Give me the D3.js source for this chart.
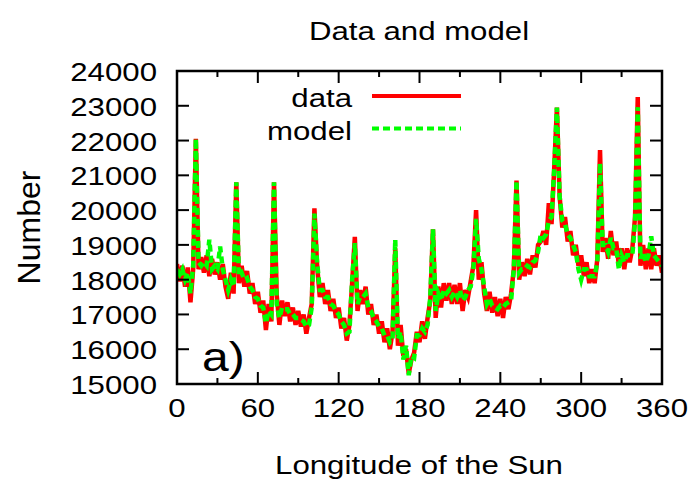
<!DOCTYPE html>
<html>
<head>
<meta charset="utf-8">
<script src="https://cdn.jsdelivr.net/npm/d3@7"></script>
<style>
  body { margin: 0; background: #fff; }
  text { font-family: "Liberation Sans", Arial, sans-serif; fill: #000; }
</style>
</head>
<body>
<div id="chart"></div>
<script>
// longitude of the Sun (degrees)
var longitude = [
  0, 2, 4, 6, 8, 10, 12, 14, 16, 18,
  20, 22, 24, 26, 28, 30, 32, 34, 36, 38,
  40, 42, 44, 46, 48, 50, 52, 54, 56, 58,
  60, 62, 64, 66, 68, 70, 72, 74, 76, 78,
  80, 82, 84, 86, 88, 90, 92, 94, 96, 98,
  100, 102, 104, 106, 108, 110, 112, 114, 116, 118,
  120, 122, 124, 126, 128, 130, 132, 134, 136, 138,
  140, 142, 144, 146, 148, 150, 152, 154, 156, 158,
  160, 162, 164, 166, 168, 170, 172, 174, 176, 178,
  180, 182, 184, 186, 188, 190, 192, 194, 196, 198,
  200, 202, 204, 206, 208, 210, 212, 214, 216, 218,
  220, 222, 224, 226, 228, 230, 232, 234, 236, 238,
  240, 242, 244, 246, 248, 250, 252, 254, 256, 258,
  260, 262, 264, 266, 268, 270, 272, 274, 276, 278,
  280, 282, 284, 286, 288, 290, 292, 294, 296, 298,
  300, 302, 304, 306, 308, 310, 312, 314, 316, 318,
  320, 322, 324, 326, 328, 330, 332, 334, 336, 338,
  340, 342, 344, 346, 348, 350, 352, 354, 356, 358,
  360
];

var dataValues = [
  18450, 17950, 18400, 17800, 18350, 17350, 18300, 22050, 18300, 18650,
  18200, 18700, 18100, 18600, 18150, 18500, 18000, 18450, 17800, 17450,
  18200, 17600, 20800, 17900, 18400, 17800, 18250, 17600, 17900, 17300,
  17650, 17050, 17400, 16550, 17300, 16800, 20800, 17550, 16700, 17400,
  16950, 17350, 16800, 17200, 16700, 17100, 16650, 17000, 16450, 16900,
  17300, 20050, 18400, 17500, 17900, 17300, 17700, 17100, 17450, 16900,
  17200, 16600, 16900, 16250, 16700, 17900, 19230, 17100, 17700, 17300,
  17800, 17000, 17300, 16700, 17000, 16450, 16800, 16200, 16600, 16000,
  16500, 18900, 16100, 16700, 15800, 16000, 15300, 15700, 15900, 16500,
  16200, 16800, 16300, 16900, 17400, 19450, 16900, 17800, 17200, 17900,
  17400, 17900, 17300, 17850, 17300, 17900, 17100, 17700, 17500, 17950,
  18400, 20000, 18000, 18500, 17600, 17100, 17650, 17050, 17500, 16950,
  17450, 16900, 17500, 17150, 17600, 18300, 20850, 18000, 18500, 18100,
  18600, 18150, 18700, 18350, 19000, 19100, 19400, 19000, 20200, 19600,
  21200, 22950, 20400, 19500, 19800, 19100, 19400, 18700, 19000, 18400,
  18700, 18100, 18500, 17900, 18300, 17900, 18600, 21730, 18800, 19200,
  18600, 19400, 18700, 19100, 18400, 18900, 18300, 18900, 18500, 18900,
  19800, 23250, 18400, 19000, 18300, 18900, 18300, 18900, 18400, 18700,
  18200
];

var modelValues = [
  18300, 18150, 18300, 18000, 18200, 17600, 18400, 22050, 18500, 18400,
  18500, 18400, 19150, 18300, 18400, 18300, 18950, 18300, 18000, 17700,
  18000, 17800, 20800, 18100, 18200, 18000, 18050, 17800, 17700, 17500,
  17450, 17250, 17200, 16750, 17100, 17000, 20800, 17300, 16900, 17200,
  17150, 17150, 17000, 17000, 16900, 16900, 16850, 16800, 16650, 16700,
  17200, 19900, 18500, 17700, 17700, 17500, 17500, 17300, 17250, 17100,
  17000, 16800, 16700, 16450, 16500, 18000, 19050, 17300, 17500, 17500,
  17600, 17200, 17100, 16900, 16800, 16650, 16600, 16400, 16400, 16200,
  16300, 19150, 16300, 16500, 15700, 16100, 15250, 15800, 15750, 16400,
  16400, 16600, 16500, 16700, 17500, 19450, 17100, 17600, 17400, 17700,
  17600, 17700, 17500, 17650, 17500, 17700, 17400, 17500, 17700, 17800,
  18300, 19750, 18600, 18300, 17800, 17300, 17450, 17250, 17200, 17150,
  17250, 17200, 17300, 17350, 17400, 18300, 20850, 18200, 18300, 18300,
  18400, 18350, 18500, 18550, 18800, 19300, 19200, 19300, 19700, 19800,
  21200, 22950, 20400, 19700, 19600, 19300, 19200, 19000, 18800, 18300,
  18000, 18300, 18300, 18100, 18100, 18100, 18500, 21350, 19000, 19000,
  18800, 19200, 18900, 18900, 18300, 18700, 18500, 18700, 18700, 18700,
  19700, 22960, 18600, 18800, 18500, 18700, 19250, 18700, 18600, 18500,
  18400
];

var xTicks = [0, 60, 120, 180, 240, 300, 360];
var xMinorTicks = [30, 90, 150, 210, 270, 330];
var yTicks = [15000, 16000, 17000, 18000, 19000, 20000, 21000, 22000, 23000, 24000];
var seriesNames = ["data", "model"];
var seriesColors = ["#ff0000", "#00ff00"];

// set the dimensions and margins of the graph
var margin = {top: 71, right: 29, bottom: 100, left: 177},
    width = 691 - margin.left - margin.right,
    height = 484 - margin.top - margin.bottom;

var svgRoot = d3.select("#chart")
  .append("svg")
    .attr("width", 691)
    .attr("height", 484);

var svg = svgRoot.append("g")
    .attr("transform", "translate(" + margin.left + "," + margin.top + ")");

var x = d3.scaleLinear().domain([0, 360]).range([0, width]);
var y = d3.scaleLinear().domain([15000, 24000]).range([height, 0]);

// text is slightly wider than tall in the reference
function label(parent, tx, ty, str, size, anchor, sx) {
  return parent.append("text")
    .attr("transform", "translate(" + tx + "," + ty + ") scale(" + (sx || 1.2) + ",1)")
    .attr("text-anchor", anchor)
    .style("font-size", size + "px")
    .text(str);
}

// title
label(svgRoot, 419, 40, "Data and model", 26, "middle");

// clip
svg.append("clipPath").attr("id", "clip")
  .append("rect").attr("width", width).attr("height", height);

// lines
var points = [d3.zip(longitude, dataValues), d3.zip(longitude, modelValues)];
var line = d3.line()
  .x(function(d) { return x(d[0]); })
  .y(function(d) { return y(d[1]); });

var plot = svg.append("g").attr("clip-path", "url(#clip)");
plot.append("path")
  .datum(points[0])
  .attr("d", line)
  .attr("fill", "none")
  .attr("stroke", seriesColors[0])
  .attr("stroke-width", 4.5);
plot.append("path")
  .datum(points[1])
  .attr("d", line)
  .attr("fill", "none")
  .attr("stroke", seriesColors[1])
  .attr("stroke-width", 4.5)
  .attr("stroke-dasharray", "7,4");

// ticks (inward, mirrored)
var tickG = svg.append("g").attr("stroke", "#000").attr("stroke-width", 2);
yTicks.forEach(function(v) {
  tickG.append("line").attr("x1", 0).attr("x2", 12).attr("y1", y(v)).attr("y2", y(v));
  tickG.append("line").attr("x1", width).attr("x2", width - 12).attr("y1", y(v)).attr("y2", y(v));
});
xTicks.forEach(function(v) {
  tickG.append("line").attr("x1", x(v)).attr("x2", x(v)).attr("y1", height).attr("y2", height - 12);
  tickG.append("line").attr("x1", x(v)).attr("x2", x(v)).attr("y1", 0).attr("y2", 12);
});
xMinorTicks.forEach(function(v) {
  tickG.append("line").attr("x1", x(v)).attr("x2", x(v)).attr("y1", height).attr("y2", height - 6);
  tickG.append("line").attr("x1", x(v)).attr("x2", x(v)).attr("y1", 0).attr("y2", 6);
});

// border
svg.append("rect")
  .attr("width", width).attr("height", height)
  .attr("fill", "none").attr("stroke", "#000").attr("stroke-width", 2.5);

// tick labels
yTicks.forEach(function(v) {
  label(svg, -20, y(v) + 10, v, 26, "end");
});
xTicks.forEach(function(v) {
  label(svg, x(v), height + 33, v, 26, "middle");
});

// axis titles
label(svgRoot, 419, 474, "Longitude of the Sun", 26, "middle");
svgRoot.append("text")
  .attr("transform", "translate(40," + (margin.top + height / 2) + ") rotate(-90)")
  .attr("text-anchor", "middle")
  .style("font-size", "32px")
  .text("Number");

// panel label
label(svg, 25, 300, "a)", 40, "start");

// legend
var legend = svgRoot.append("g");
seriesNames.forEach(function(name, i) {
  var ly = 96 + i * 32.5;
  label(legend, 352, ly + 11, name, 26, "end");
  legend.append("line")
    .attr("x1", 372).attr("x2", 461)
    .attr("y1", ly).attr("y2", ly)
    .attr("stroke", seriesColors[i])
    .attr("stroke-width", 4)
    .attr("stroke-dasharray", i === 1 ? "7,4" : null);
});
</script>
</body>
</html>
